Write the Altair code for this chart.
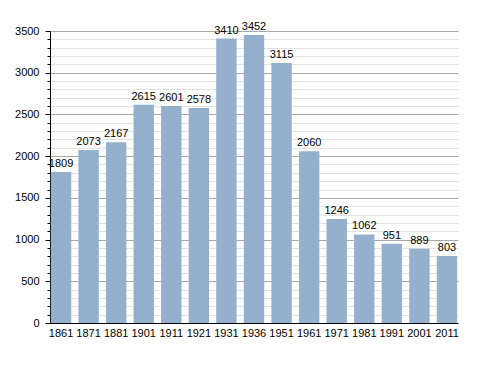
import altair as alt
import pandas as pd

years = ["1861", "1871", "1881", "1901", "1911", "1921", "1931", "1936", "1951",
         "1961", "1971", "1981", "1991", "2001", "2011"]
population = [1809, 2073, 2167, 2615, 2601, 2578, 3410, 3452, 3115,
              2060, 1246, 1062, 951, 889, 803]
y_ticks = list(range(0, 3600, 100))

df = pd.DataFrame({"year": years, "pop": population})

FONT = "Liberation Sans"
yscale = alt.Scale(domain=[0, 3500], nice=False, zero=True)
xscale = alt.Scale(paddingInner=0.26, paddingOuter=0.03)
major = "datum.value % 500 === 0"

x_axis = alt.Axis(title=None, labelAngle=0, ticks=False, domainColor="#000",
                  labelFont=FONT, labelFontSize=11, labelColor="#000",
                  labelPadding=4, grid=False)
y_axis = alt.Axis(values=y_ticks, title=None, grid=True, format="d",
                  gridColor={"condition": {"test": major, "value": "#a8a8a8"},
                             "value": "#e2e2e2"},
                  tickSize={"condition": {"test": major, "value": 5}, "value": 3},
                  labelExpr="datum.value % 500 === 0 ? datum.label : ''",
                  tickColor="#000", domainColor="#000",
                  labelFont=FONT, labelFontSize=11, labelColor="#000",
                  labelPadding=6, labelOverlap=False)

bars = alt.Chart(df).mark_bar(color="#94b0cd").encode(
    x=alt.X("year:N", sort=years, scale=xscale, axis=x_axis),
    y=alt.Y("pop:Q", scale=yscale, axis=y_axis),
)

labels = alt.Chart(df).mark_text(baseline="bottom", dy=-3, font=FONT, fontSize=11,
                                  color="#000").encode(
    x=alt.X("year:N", sort=years, scale=xscale, axis=x_axis),
    y=alt.Y("pop:Q", scale=yscale, axis=y_axis),
    text="pop:Q",
)

chart = alt.layer(bars, labels).properties(
    width=408, height=292,
    autosize=alt.AutoSizeParams(type="none"),
    padding={"left": 42, "top": 23, "right": 22, "bottom": 34},
).configure_view(stroke=None).configure_axis(gridOpacity=1)

chart.save("out.html", embed_options={"renderer": "svg", "actions": False})
